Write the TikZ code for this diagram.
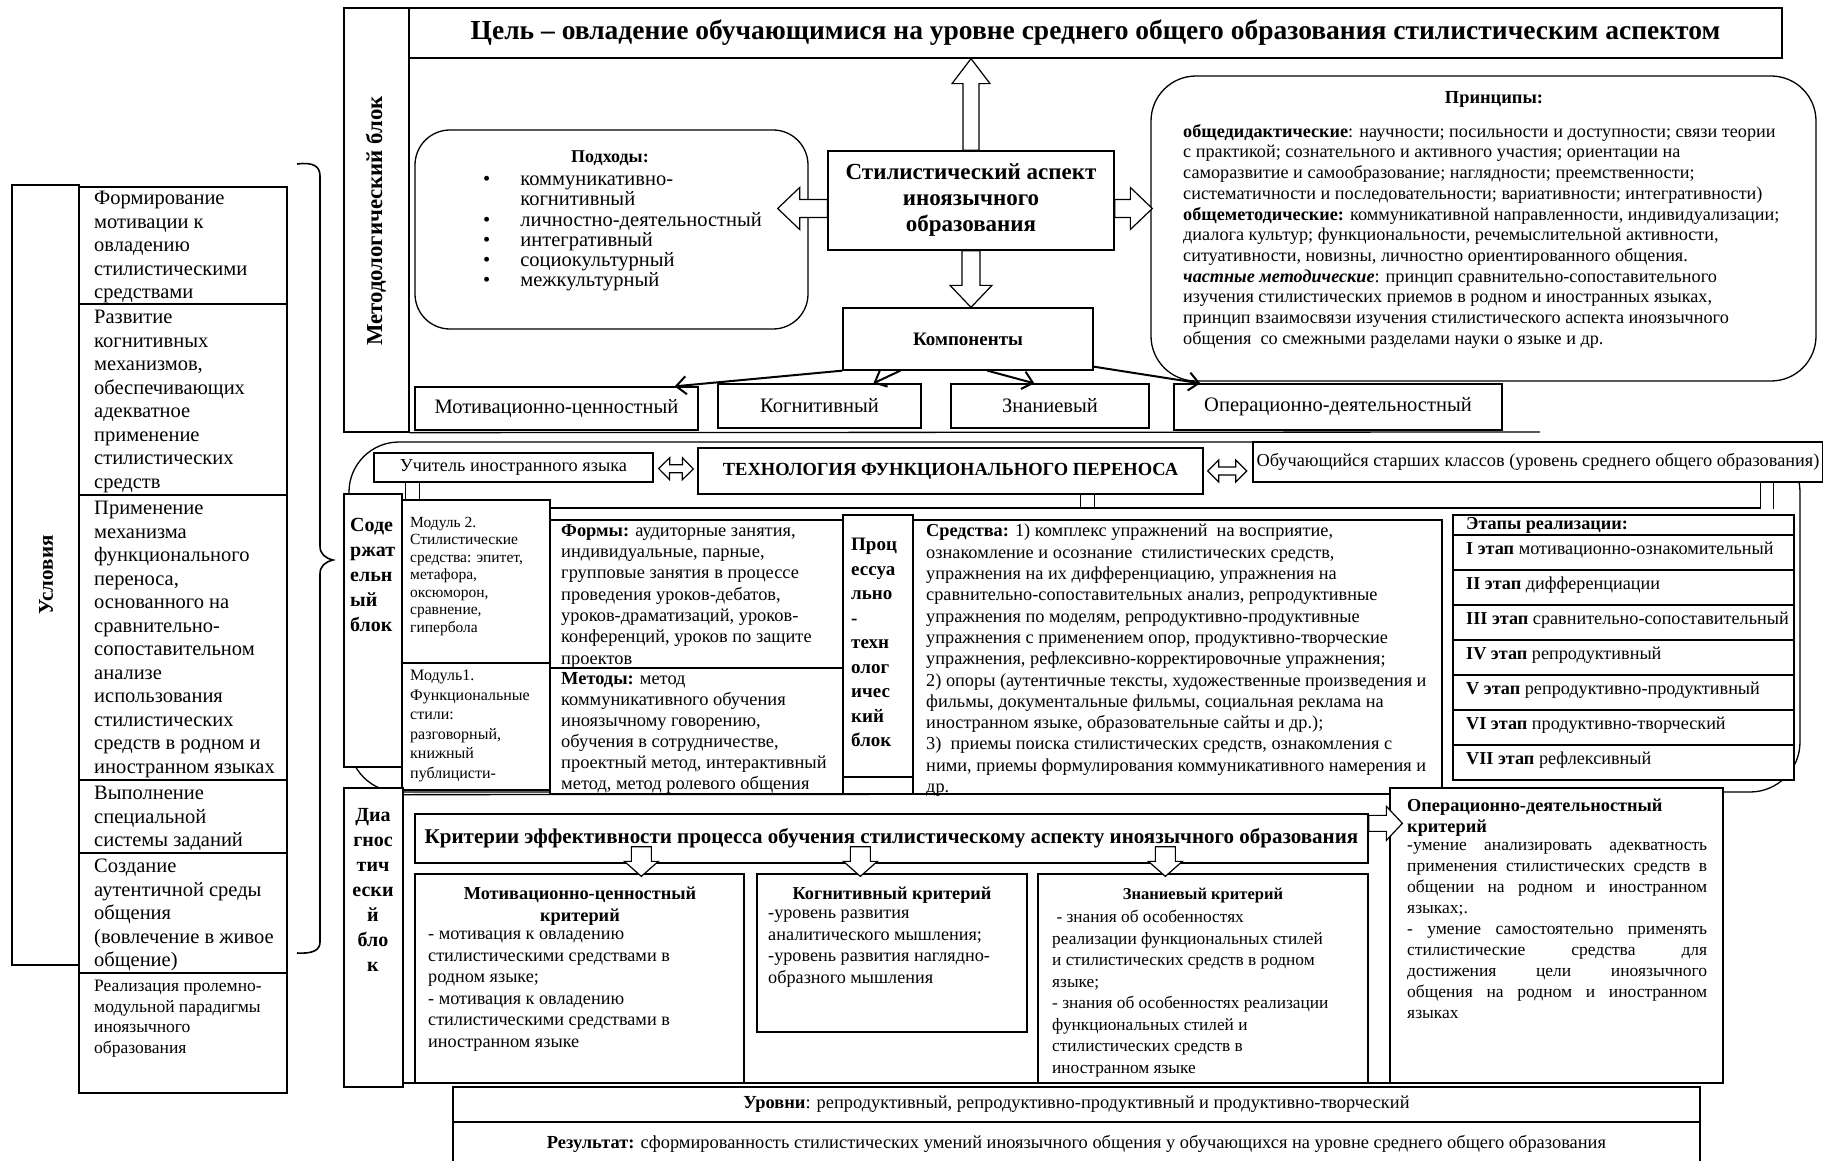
\documentclass[tikz,border=0pt]{standalone}
\usepackage{fontspec}
\setmainfont{Liberation Serif}
\usetikzlibrary{calc,arrows.meta}
\newcommand{\fs}[2]{\fontsize{#1}{#2}\selectfont}
\newcommand{\bx}[7][]{\node[boxs,minimum width={#5-#3},minimum height={#6-#4},#1] (#2) at ({(#3+#5)/2},{(#4+#6)/2}) {#7};}
\newcommand{\blkarrow}[5]{%
 \path #1 coordinate (ba) #2 coordinate (bt) ($(bt)!#5pt!(ba)$) coordinate (bh);
 \draw[barrow] ($(ba)!#3pt!90:(bt)$) -- ($(bh)!#3pt!90:(bt)$) -- ($(bh)!#4pt!90:(bt)$) -- (bt) -- ($(bh)!#4pt!-90:(bt)$) -- ($(bh)!#3pt!-90:(bt)$) -- ($(ba)!#3pt!-90:(bt)$) -- cycle;}
\newcommand{\dblkarrow}[5]{%
 \path #1 coordinate (ba) #2 coordinate (bt) ($(ba)!#5pt!(bt)$) coordinate (bh1) ($(bt)!#5pt!(ba)$) coordinate (bh2);
 \draw[barrow] (ba) -- ($(bh1)!#4pt!90:(bt)$) -- ($(bh1)!#3pt!90:(bt)$) -- ($(bh2)!#3pt!-90:(ba)$) -- ($(bh2)!#4pt!-90:(ba)$) -- (bt) -- ($(bh2)!#4pt!90:(ba)$) -- ($(bh2)!#3pt!90:(ba)$) -- ($(bh1)!#3pt!-90:(bt)$) -- ($(bh1)!#4pt!-90:(bt)$) -- cycle;}
\begin{document}
\begin{tikzpicture}[x=1pt,y=-1pt,
 boxs/.style={draw,line width=1.3pt,fill=white,inner sep=0pt,align=center},
 txt/.style={inner sep=0pt,anchor=north west,align=left},
 barrow/.style={draw,line width=1.2pt,fill=white,line join=miter},
 thinarr/.style={line width=2pt,-{Straight Barb[length=10pt,width=18pt,line width=2pt]}}]
\fill[white] (0,0) rectangle (1823,1161);
\useasboundingbox (0,0) rectangle (1823,1161);

% ---------- left column: conditions
\bx{uslov}{12}{185}{79}{965}{}
\node[rotate=90,font=\bfseries\fs{21}{24}] (uslovt) at (46,575) {Условия};
\bx{u1}{79}{187}{287}{304}{}
\bx{u2}{79}{304}{287}{495}{}
\bx{u3}{79}{495}{287}{780}{}
\bx{u4}{79}{780}{287}{853}{}
\bx{u5}{79}{853}{287}{973}{}
\bx{u6}{79}{973}{287}{1093}{}
\begin{scope}[every node/.style={txt,font=\fs{20.5}{23.5}}]
\node (u1t) at (94,191) {Формирование\\мотивации к\\овладению\\стилистическими\\средствами};
\node (u2t) at (94,310) {Развитие\\когнитивных\\механизмов,\\обеспечивающих\\адекватное\\применение\\стилистических\\средств};
\node (u3t) at (94,501) {Применение\\механизма\\функционального\\переноса,\\основанного на\\сравнительно-\\сопоставительном\\анализе\\использования\\стилистических\\средств в родном и\\иностранном языках};
\node (u4t) at (94,786) {Выполнение\\специальной\\системы заданий};
\node (u5t) at (94,859) {Создание\\аутентичной среды\\общения\\(вовлечение в живое\\общение)};
\end{scope}
\node[txt,font=\fs{17.5}{20.5}] (u6t) at (94,980) {Реализация пролемно-\\модульной парадигмы\\иноязычного\\образования};
\draw[line width=1.6pt] (297,164) .. controls (313,162) and (320,166) .. (320,176) -- (320,546) .. controls (320,554) and (325,558) .. (333,560) .. controls (325,562) and (320,566) .. (320,574) -- (320,942) .. controls (320,950) and (313,954) .. (297,953);

% ---------- methodological block
\bx{metstrip}{344}{8}{409}{432}{}
\node[rotate=90,font=\bfseries\fs{22.8}{26}] (mett) at (376,221) {Методологический блок};
\draw[line width=1.3pt] (metstrip.south east) -- (1540,432);
\bx[font=\bfseries\fs{27.5}{30}]{title}{409}{8}{1782}{58}{Цель – овладение обучающимися на уровне среднего общего образования стилистическим аспектом}

\bx[rounded corners=35pt]{podh}{415}{130}{808}{329}{}
\node[font=\bfseries\fs{18}{20}] (podht) at (610,158) {Подходы:};
\node[txt,font=\fs{20.5}{20.3}] (podhl) at (483,171) {\begin{tabular}{@{}l@{\hspace{30pt}}l@{}}•&коммуникативно-\\&когнитивный\\•&личностно-деятельностный\\•&интегративный\\•&социокультурный\\•&межкультурный\end{tabular}};

\bx[rounded corners=45pt]{princ}{1151}{76}{1816}{381}{}
\node[font=\bfseries\fs{18.4}{20}] (princh) at (1494,99) {Принципы:};
\node[txt,font=\fs{18.2}{20.7}] (princt) at (1183,124) {\textbf{общедидактические}: научности; посильности и доступности; связи теории\\с практикой; сознательного и активного участия; ориентации на\\саморазвитие и самообразование; наглядности; преемственности;\\систематичности и последовательности; вариативности; интегративности)\\\textbf{общеметодические:} коммуникативной направленности, индивидуализации;\\диалога культур; функциональности, речемыслительной активности,\\ситуативности, новизны, личностно ориентированного общения.\\\textbf{\textit{частные методические}}: принцип сравнительно-сопоставительного\\изучения стилистических приемов в родном и иностранных языках,\\принцип взаимосвязи изучения стилистического аспекта иноязычного\\общения\ \ со смежными разделами науки о языке и др.};

\bx[font=\bfseries\fs{23}{26}]{sa}{828}{151}{1114}{250}{Стилистический аспект\\иноязычного\\образования}
\bx[font=\bfseries\fs{19}{22}]{komp}{843}{308}{1093}{370}{Компоненты}

\bx[font=\fs{20.5}{22}]{c1}{415}{387}{698}{430}{Мотивационно-ценностный}
\bx[font=\fs{20.5}{22}]{c2}{718}{384}{921}{428}{Когнитивный}
\bx[font=\fs{20.5}{22}]{c3}{951}{384}{1149}{428}{Знаниевый}
\bx[font=\fs{20.5}{22}]{c4}{1174}{384}{1502}{430}{Операционно-деятельностный}

\coordinate (t1) at (sa.north |- title.south);
\blkarrow{(sa.north)}{(t1)}{8}{19}{25}
\coordinate (la0) at ($(sa.west)+(0,8)$);
\coordinate (la1) at ($(podh.east |- la0)+(-31,0)$);
\blkarrow{(la0)}{(la1)}{9}{21}{22}
\coordinate (ra0) at ($(sa.east)+(0,8)$);
\coordinate (ra1) at ($(princ.west |- ra0)+(2,0)$);
\blkarrow{(ra0)}{(ra1)}{9}{21}{22}
\coordinate (da1) at (sa.south |- komp.north);
\blkarrow{(sa.south)}{(da1)}{9}{21}{22}

\draw[thinarr] (komp.south west) -- ($(c1.north east)+(-24,0)$);
\draw[thinarr] ($(komp.south west)+(58,0)$) -- ($(c2.north west)+(156,0)$);
\draw[thinarr] ($(komp.south west)+(145,0)$) -- ($(c3.north west)+(84,0)$);
\draw[thinarr] ($(komp.south east)+(0,-4)$) -- ($(c4.north west)+(27,0)$);

% ---------- technology block
\bx[rounded corners=50pt,fill=none]{techframe}{349}{442}{1800}{792}{}
\bx[font=\fs{18.3}{20}]{uch}{374}{453}{653}{482}{Учитель иностранного языка}
\bx[font=\bfseries\fs{18.5}{20}]{tech}{698}{448}{1203}{494}{ТЕХНОЛОГИЯ ФУНКЦИОНАЛЬНОГО ПЕРЕНОСА}
\bx[font=\fs{18.3}{20}]{obuch}{1253}{442}{1823}{482}{Обучающийся старших классов (уровень среднего общего образования)}
\dblkarrow{($(uch.east)+(5,1)$)}{($(tech.west)+(-4,-2)$)}{4}{11}{11}
\dblkarrow{($(tech.east)+(4,0)$)}{($(tech.east)+(43,0)$)}{4}{11}{11}
\draw[line width=1.3pt] (410,508) -- (1760,508);
\draw[line width=1.3pt] ($(uch.south west)+(32,0)$) -- ++(0,18);
\draw[line width=1.3pt] ($(uch.south west)+(46,0)$) -- ++(0,18);
\draw[line width=1.3pt] ($(tech.south west)+(383,0)$) -- ++(0,14);
\draw[line width=1.3pt] ($(tech.south west)+(397,0)$) -- ++(0,14);
\draw[line width=1.3pt] ($(obuch.south east)+(-63,0)$) -- ++(0,26);
\draw[line width=1.3pt] ($(obuch.south east)+(-50,0)$) -- ++(0,26);

\bx{sod}{344}{494}{402}{767}{}
\node[txt,font=\bfseries\fs{20}{25}] (sodt) at (350,518) {Соде\\ржат\\ельн\\ый\\блок};
\bx{mod2}{402}{500}{550}{663}{}
\node[txt,font=\fs{15.5}{17.5}] (mod2t) at (410,517) {Модуль 2.\\Стилистические\\средства: эпитет,\\метафора,\\оксюморон,\\сравнение,\\гипербола};
\bx{mod1}{402}{663}{550}{790}{}
\node[txt,font=\fs{16}{19.5}] (mod1t) at (410,670) {Модуль1.\\Функциональные\\стили:\\разговорный,\\книжный\\публицисти-};
\bx{formy}{550}{520}{843}{668}{}
\node[txt,font=\fs{18.4}{21.3}] (formyt) at (561,524) {\textbf{Формы:} аудиторные занятия,\\индивидуальные, парные,\\групповые занятия в процессе\\проведения уроков-дебатов,\\уроков-драматизаций, уроков-\\конференций, уроков по защите\\проектов};
\bx{metody}{550}{668}{843}{794}{}
\node[txt,font=\fs{18.4}{21}] (metodyt) at (561,672) {\textbf{Методы:} метод\\коммуникативного обучения\\иноязычному говорению,\\обучения в сотрудничестве,\\проектный метод, интерактивный\\метод, метод ролевого общения};
\bx{proc}{843}{515}{913}{777}{}
\node[txt,font=\bfseries\fs{19}{24.5}] (proct) at (851,538) {Проц\\ессуа\\льно\\-\\техн\\олог\\ичес\\кий\\блок};
\bx{procb}{843}{777}{913}{794}{}
\bx{sredstva}{913}{520}{1442}{794}{}
\node[txt,font=\fs{18.3}{21.3}] (sredt) at (926,524) {\textbf{Средства:} 1) комплекс упражнений\ \ на восприятие,\\ознакомление и осознание\ \ стилистических средств,\\упражнения на их дифференциацию, упражнения на\\сравнительно-сопоставительных анализ, репродуктивные\\упражнения по моделям, репродуктивно-продуктивные\\упражнения с применением опор, продуктивно-творческие\\упражнения, рефлексивно-корректировочные упражнения;\\2) опоры (аутентичные тексты, художественные произведения и\\фильмы, документальные фильмы, социальная реклама на\\иностранном языке, образовательные сайты и др.);\\3)\ \ приемы поиска стилистических средств, ознакомления с\\ними, приемы формулирования коммуникативного намерения и\\др.};
\bx{e0}{1453}{515}{1794}{535}{}
\bx{e1}{1453}{535}{1794}{570}{}
\bx{e2}{1453}{570}{1794}{605}{}
\bx{e3}{1453}{605}{1794}{640}{}
\bx{e4}{1453}{640}{1794}{675}{}
\bx{e5}{1453}{675}{1794}{710}{}
\bx{e6}{1453}{710}{1794}{745}{}
\bx{e7}{1453}{745}{1794}{780}{}
\begin{scope}[every node/.style={inner sep=0pt,anchor=west,font=\fs{18.2}{20}}]
\node[font=\bfseries\fs{18.2}{20}] (e0t) at (1466,525) {Этапы реализации:};
\node (e1t) at (1466,550) {\textbf{I этап} мотивационно-ознакомительный};
\node (e2t) at (1466,585) {\textbf{II этап} дифференциации};
\node (e3t) at (1466,620) {\textbf{III этап} сравнительно-сопоставительный};
\node (e4t) at (1466,655) {\textbf{IV этап} репродуктивный};
\node (e5t) at (1466,690) {\textbf{V этап} репродуктивно-продуктивный};
\node (e6t) at (1466,725) {\textbf{VI этап} продуктивно-творческий};
\node (e7t) at (1466,760) {\textbf{VII этап} рефлексивный};
\end{scope}

% ---------- diagnostic block
\bx{diag}{344}{788}{403}{1087}{}
\node[inner sep=0pt,anchor=north,align=center,font=\bfseries\fs{20}{25}] (diagt) at (373,808) {Диа\\гнос\\тич\\ески\\й\\бло\\к};
\draw[line width=1.3pt] (diag.north east |- metody.south) -- (1390,794);
\draw[line width=1.3pt] (403,1083) -- (1390,1083);
\bx[font=\bfseries\fs{21}{24}]{krit}{415}{814}{1368}{863}{Критерии эффективности процесса обучения стилистическому аспекту иноязычного образования}
\bx{k1}{415}{874}{744}{1083}{}
\bx{k2}{757}{874}{1027}{1032}{}
\bx{k3}{1038}{874}{1368}{1083}{}
\bx{k4}{1390}{788}{1723}{1083}{}
\begin{scope}[every node/.style={inner sep=0pt,font=\fs{18.2}{21.5}}]
\node[anchor=north,align=center,font=\bfseries\fs{18.3}{22}] (k1h) at (580,887) {Мотивационно-ценностный\\критерий};
\node[txt] (k1t) at (428,931) {- мотивация к овладению\\стилистическими средствами в\\родном языке;\\- мотивация к овладению\\стилистическими средствами в\\иностранном языке};
\node[anchor=north,align=center,font=\bfseries\fs{18.2}{22}] (k2h) at (892,887) {Когнитивный критерий};
\node[txt] (k2t) at (768,910) {-уровень развития\\аналитического мышления;\\-уровень развития наглядно-\\образного мышления};
\node[anchor=north,align=center,font=\bfseries\fs{16.5}{22}] (k3h) at (1203,888) {Знаниевый критерий};
\node[txt,font=\fs{17.3}{21.5}] (k3t) at (1052,910) {\ - знания об особенностях\\реализации функциональных стилей\\и стилистических средств в родном\\языке;\\- знания об особенностях реализации\\функциональных стилей и\\стилистических средств в\\иностранном языке};
\node[txt,font=\bfseries\fs{18.3}{21}] (k4h) at (1407,799) {Операционно-деятельностный\\критерий};
\node[txt,align=justify,text width=300pt,font=\fs{17.5}{21}] (k4t) at (1407,842) {-умение анализировать адекватность\linebreak применения стилистических средств в\linebreak общении на родном и иностранном\linebreak языках;.\\- умение самостоятельно применять\linebreak стилистические средства для\linebreak достижения цели иноязычного\linebreak общения на родном и иностранном\linebreak языках};
\end{scope}
\coordinate (ka0) at ($(krit.north east)+(0,10)$);
\coordinate (ka1) at ($(k4.west |- ka0)+(13,0)$);
\blkarrow{(ka0)}{(ka1)}{8}{17}{16}
\coordinate (kd1) at ($(krit.south west)+(227,-17)$);
\coordinate (kd2) at ($(krit.south west)+(446,-17)$);
\coordinate (kd3) at ($(krit.south west)+(751,-17)$);
\blkarrow{(kd1)}{($(k1.north -| kd1)+(0,3)$)}{10}{17}{15}
\blkarrow{(kd2)}{($(k2.north -| kd2)+(0,3)$)}{10}{17}{15}
\blkarrow{(kd3)}{($(k3.north -| kd3)+(0,3)$)}{10}{17}{15}

% ---------- bottom
\bx[font=\fs{18.4}{20}]{urov}{453}{1087}{1700}{1122}{\textbf{Уровни}: репродуктивный, репродуктивно-продуктивный и продуктивно-творческий}
\bx[font=\fs{18.4}{20}]{rez}{453}{1122}{1700}{1166}{\textbf{Результат:} сформированность стилистических умений иноязычного общения у обучающихся на уровне среднего общего образования}
\end{tikzpicture}
\end{document}
